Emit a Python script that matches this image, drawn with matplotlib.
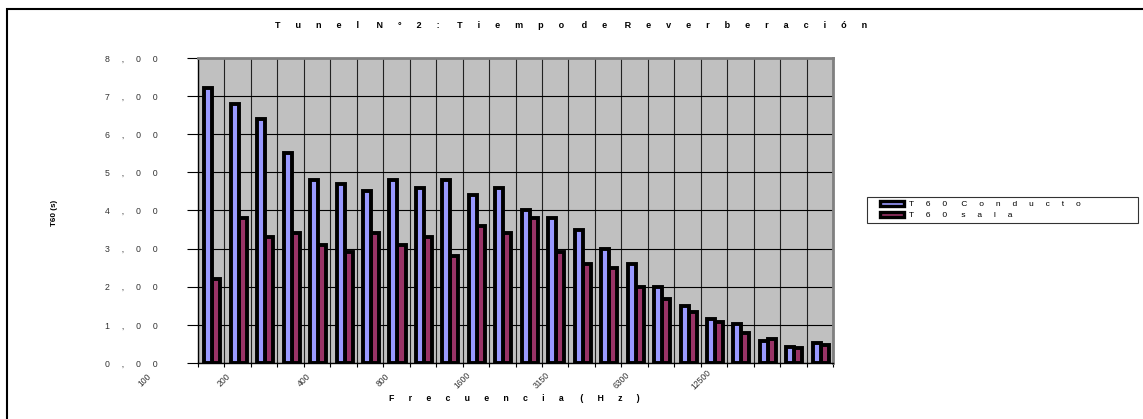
import numpy as np
import matplotlib
matplotlib.use("Agg")
import matplotlib.pyplot as plt
from matplotlib.patches import Rectangle, Patch
from matplotlib.legend_handler import HandlerPatch
import matplotlib.transforms as mtransforms

plt.rcParams['font.family'] = ['Liberation Sans', 'DejaVu Sans']

# ---- data ----
frequencies = ["100", "125", "160", "200", "250", "315", "400", "500", "630", "800",
               "1000", "1250", "1600", "2000", "2500", "3150", "4000", "5000", "6300",
               "8000", "10000", "12500", "16000", "20000"]
t60_conducto = [7.2, 6.8, 6.4, 5.5, 4.8, 4.7, 4.5, 4.8, 4.6, 4.8, 4.4, 4.6,
                4.0, 3.8, 3.5, 3.0, 2.6, 2.0, 1.5, 1.16, 1.01, 0.59, 0.42, 0.52]
t60_sala = [2.2, 3.8, 3.3, 3.4, 3.1, 2.9, 3.4, 3.1, 3.3, 2.8, 3.6, 3.4,
            3.8, 2.9, 2.6, 2.5, 2.0, 1.68, 1.34, 1.08, 0.80, 0.64, 0.39, 0.47]
yticks = [0, 1, 2, 3, 4, 5, 6, 7, 8]
series_names = ["T60 Conducto", "T60 sala"]
title = "Tunel N°2: Tiempo de Reverberación"
xlabel = "Frecuencia (Hz)"
ylabel = "T60 (s)"


def spaced(s, n=5):
    """Letter-spaced rendering like the original chart."""
    words = s.split(" ")
    return (" " * (n + 1)).join((" " * n).join(w) for w in words)


W, H = 1143, 419
fig = plt.figure(figsize=(W / 100, H / 100), dpi=100)

# outer border
fig.patches.append(Rectangle((7 / W, -0.1), 1.2, 1 - 9 / H + 0.1, transform=fig.transFigure,
                             fill=False, edgecolor='black', linewidth=1.5))

L, R, T, B = 198, 833, 58, 363
ax = fig.add_axes([L / W, 1 - B / H, (R - L) / W, (B - T) / H])
ax.set_facecolor('#C0C0C0')

x = np.arange(len(frequencies))
bw = 0.303
off = 0.04
ax.bar(x + off + bw / 2, t60_sala, width=bw, color='#993366', edgecolor='black',
       linewidth=2.8, zorder=3)
ax.bar(x + off - bw / 2, t60_conducto, width=bw, color='#9999FF', edgecolor='black',
       linewidth=2.8, zorder=3)

ax.set_xlim(-0.5, len(frequencies) - 0.5)
ax.set_ylim(0, 8)

ax.set_yticks(yticks)
ax.set_yticklabels([spaced(f"{v},00") for v in yticks], fontsize=6.3, color='#333333')
ax.tick_params(axis='y', length=8, width=0.8, direction='out', pad=21)

ax.set_xticks(np.arange(len(frequencies) + 1) - 0.5)
ax.set_xticklabels([])
ax.tick_params(axis='x', length=3, width=0.8, direction='out')

ax.grid(True, axis='y', color='black', linewidth=0.8, zorder=1)
ax.grid(True, axis='x', color='#222222', linewidth=0.8, zorder=1)
ax.set_axisbelow(True)

for s in ['left', 'bottom']:
    ax.spines[s].set_color('black')
    ax.spines[s].set_linewidth(1.0)
for s in ['top', 'right']:
    ax.spines[s].set_color('#808080')
    ax.spines[s].set_linewidth(2.0)

# category labels every third category (shifted like the reference)
trans = mtransforms.blended_transform_factory(ax.transData, ax.transAxes)
for k in range(0, len(frequencies), 3):
    ax.text(k - 2.5, -0.056, frequencies[k], rotation=45, ha='center', va='center',
            fontsize=6.2, color='#333333', transform=trans, clip_on=False)

fig.text(571 / W, 1 - 25.5 / H, spaced(title, 6), ha='center', va='center',
         fontsize=6.5, fontweight='bold')
fig.text(514 / W, 1 - 398 / H, spaced(xlabel, 6), ha='center', va='center',
         fontsize=6.3, fontweight='bold')
fig.text(55 / W, 1 - 213 / H, ylabel, ha='center', va='center', rotation=90,
         fontsize=5.8, fontweight='bold')


def offset_rect(legend, orig_handle, xdescent, ydescent, width, height, fontsize):
    pad = 0.28 * width
    return Rectangle((-xdescent + pad, -ydescent), width - pad, height)


handles = [Patch(facecolor='#9999FF', edgecolor='black', linewidth=2.4),
           Patch(facecolor='#993366', edgecolor='black', linewidth=2.4)]
leg = fig.legend(handles, [spaced(n, 5) for n in series_names], loc='upper left',
                 bbox_to_anchor=(867 / W, 1 - 225 / H, (1138 - 867) / W, 28 / H),
                 bbox_transform=fig.transFigure, mode='expand',
                 borderaxespad=0, fontsize=6, frameon=True, fancybox=False,
                 handlelength=4.0, handleheight=0.55, handletextpad=0.6,
                 borderpad=0.45, labelspacing=0.45,
                 handler_map={Patch: HandlerPatch(patch_func=offset_rect)})
leg.get_frame().set_edgecolor('black')
leg.get_frame().set_linewidth(0.8)

fig.savefig('out.png', dpi=100, facecolor='white')
